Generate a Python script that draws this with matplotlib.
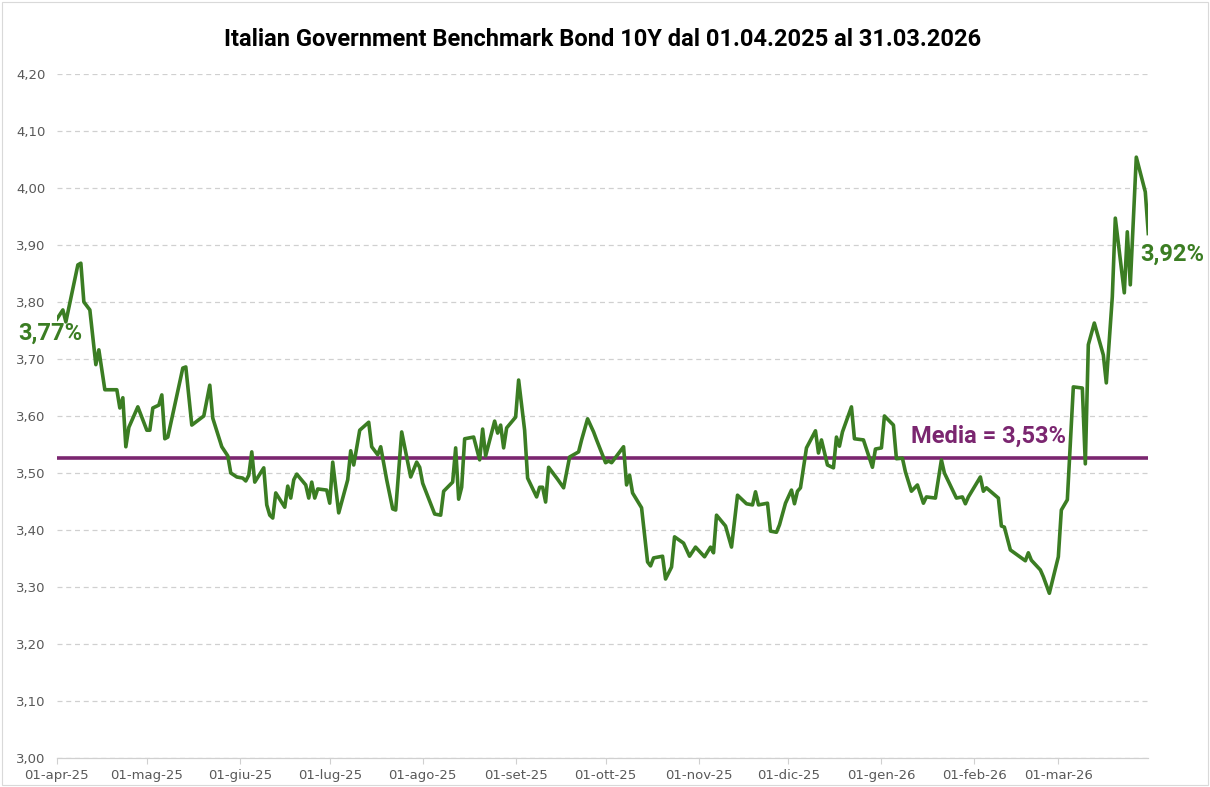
import matplotlib
matplotlib.use("Agg")
import matplotlib.pyplot as plt
import pandas as pd
from matplotlib.ticker import FuncFormatter, MultipleLocator
from matplotlib.patches import Rectangle

# rendimento BTP 10Y (vertici)
date_str = [
    "2025-04-01", "2025-04-03", "2025-04-04", "2025-04-08", "2025-04-09", "2025-04-10",
    "2025-04-12", "2025-04-14", "2025-04-15", "2025-04-17", "2025-04-21", "2025-04-22",
    "2025-04-23", "2025-04-24", "2025-04-25", "2025-04-28", "2025-05-01", "2025-05-02",
    "2025-05-03", "2025-05-05", "2025-05-06", "2025-05-07", "2025-05-08", "2025-05-13",
    "2025-05-14", "2025-05-16", "2025-05-20", "2025-05-22", "2025-05-23", "2025-05-26",
    "2025-05-28", "2025-05-29", "2025-05-31", "2025-06-02", "2025-06-03", "2025-06-04",
    "2025-06-05", "2025-06-06", "2025-06-09", "2025-06-10", "2025-06-11", "2025-06-12",
    "2025-06-13", "2025-06-16", "2025-06-17", "2025-06-18", "2025-06-19", "2025-06-20",
    "2025-06-23", "2025-06-24", "2025-06-25", "2025-06-26", "2025-06-27", "2025-06-30",
    "2025-07-01", "2025-07-02", "2025-07-03", "2025-07-04", "2025-07-07", "2025-07-08",
    "2025-07-09", "2025-07-11", "2025-07-14", "2025-07-15", "2025-07-17", "2025-07-18",
    "2025-07-20", "2025-07-22", "2025-07-23", "2025-07-25", "2025-07-28", "2025-07-30",
    "2025-07-31", "2025-08-01", "2025-08-05", "2025-08-07", "2025-08-08", "2025-08-11",
    "2025-08-12", "2025-08-13", "2025-08-14", "2025-08-15", "2025-08-18", "2025-08-20",
    "2025-08-21", "2025-08-22", "2025-08-25", "2025-08-26", "2025-08-27", "2025-08-28",
    "2025-08-29", "2025-09-01", "2025-09-02", "2025-09-04", "2025-09-05", "2025-09-08",
    "2025-09-09", "2025-09-10", "2025-09-11", "2025-09-12", "2025-09-15", "2025-09-17",
    "2025-09-19", "2025-09-22", "2025-09-23", "2025-09-25", "2025-09-27", "2025-09-28",
    "2025-10-01", "2025-10-02", "2025-10-03", "2025-10-07", "2025-10-08", "2025-10-09",
    "2025-10-10", "2025-10-13", "2025-10-15", "2025-10-16", "2025-10-17", "2025-10-20",
    "2025-10-21", "2025-10-23", "2025-10-24", "2025-10-27", "2025-10-29", "2025-10-31",
    "2025-11-03", "2025-11-05", "2025-11-06", "2025-11-07", "2025-11-10", "2025-11-12",
    "2025-11-14", "2025-11-17", "2025-11-19", "2025-11-20", "2025-11-21", "2025-11-24",
    "2025-11-25", "2025-11-27", "2025-11-28", "2025-11-30", "2025-12-02", "2025-12-03",
    "2025-12-04", "2025-12-05", "2025-12-07", "2025-12-10", "2025-12-11", "2025-12-12",
    "2025-12-14", "2025-12-16", "2025-12-17", "2025-12-18", "2025-12-19", "2025-12-22",
    "2025-12-23", "2025-12-26", "2025-12-29", "2025-12-30", "2026-01-01", "2026-01-02",
    "2026-01-05", "2026-01-06", "2026-01-08", "2026-01-09", "2026-01-11", "2026-01-13",
    "2026-01-15", "2026-01-16", "2026-01-19", "2026-01-21", "2026-01-22", "2026-01-26",
    "2026-01-28", "2026-01-29", "2026-01-30", "2026-02-03", "2026-02-04", "2026-02-05",
    "2026-02-07", "2026-02-09", "2026-02-10", "2026-02-11", "2026-02-13", "2026-02-18",
    "2026-02-19", "2026-02-20", "2026-02-23", "2026-02-24", "2026-02-26", "2026-03-01",
    "2026-03-02", "2026-03-04", "2026-03-06", "2026-03-09", "2026-03-10", "2026-03-11",
    "2026-03-13", "2026-03-16", "2026-03-17", "2026-03-19", "2026-03-20", "2026-03-23",
    "2026-03-24", "2026-03-25", "2026-03-27", "2026-03-30", "2026-03-31",
]
rendimento = [
    3.770, 3.786, 3.765, 3.865, 3.868, 3.800,
    3.786, 3.690, 3.716, 3.646, 3.646, 3.614,
    3.632, 3.546, 3.580, 3.616, 3.575, 3.575,
    3.614, 3.619, 3.637, 3.560, 3.563, 3.684,
    3.686, 3.584, 3.600, 3.654, 3.596, 3.546,
    3.530, 3.500, 3.493, 3.491, 3.486, 3.496,
    3.537, 3.484, 3.509, 3.444, 3.426, 3.421,
    3.465, 3.440, 3.477, 3.456, 3.488, 3.498,
    3.479, 3.456, 3.484, 3.456, 3.472, 3.470,
    3.447, 3.519, 3.475, 3.430, 3.488, 3.539,
    3.514, 3.575, 3.589, 3.546, 3.532, 3.546,
    3.488, 3.437, 3.435, 3.572, 3.493, 3.519,
    3.510, 3.482, 3.428, 3.426, 3.468, 3.484,
    3.544, 3.454, 3.475, 3.560, 3.563, 3.523,
    3.577, 3.530, 3.591, 3.570, 3.584, 3.544,
    3.579, 3.598, 3.663, 3.575, 3.491, 3.458,
    3.475, 3.475, 3.449, 3.510, 3.489, 3.474,
    3.528, 3.537, 3.558, 3.595, 3.572, 3.558,
    3.518, 3.521, 3.518, 3.546, 3.479, 3.496,
    3.465, 3.439, 3.344, 3.337, 3.351, 3.354,
    3.314, 3.335, 3.388, 3.377, 3.354, 3.370,
    3.353, 3.370, 3.360, 3.426, 3.407, 3.370,
    3.461, 3.446, 3.444, 3.467, 3.444, 3.447,
    3.398, 3.396, 3.409, 3.447, 3.470, 3.446,
    3.468, 3.474, 3.544, 3.574, 3.535, 3.558,
    3.514, 3.509, 3.563, 3.547, 3.572, 3.616,
    3.560, 3.558, 3.510, 3.542, 3.544, 3.600,
    3.584, 3.525, 3.526, 3.502, 3.468, 3.479,
    3.447, 3.458, 3.456, 3.523, 3.500, 3.456,
    3.458, 3.446, 3.458, 3.493, 3.468, 3.474,
    3.465, 3.456, 3.407, 3.405, 3.365, 3.346,
    3.360, 3.347, 3.330, 3.318, 3.289, 3.353,
    3.435, 3.453, 3.651, 3.649, 3.516, 3.725,
    3.763, 3.707, 3.658, 3.809, 3.947, 3.816,
    3.923, 3.830, 4.054, 3.993, 3.920,
]
media = 3.527

tick_date = ["2025-04-01", "2025-05-01", "2025-06-01", "2025-07-01", "2025-08-01",
             "2025-09-01", "2025-10-01", "2025-11-01", "2025-12-01", "2026-01-01",
             "2026-02-01", "2026-03-01"]
tick_lab = ["01-apr-25", "01-mag-25", "01-giu-25", "01-lug-25", "01-ago-25",
            "01-set-25", "01-ott-25", "01-nov-25", "01-dic-25", "01-gen-26",
            "01-feb-26", "01-mar-26"]

verde = "#3B7D23"
viola = "#7B2670"
grigio = "#595959"

date = pd.to_datetime(date_str)

fig = plt.figure(figsize=(12.1, 7.87), dpi=100)
ax = fig.add_axes([0.047, 0.0368, 0.902, 0.8693])
fig.patches.append(Rectangle((0.002, 0.002), 0.996, 0.996, transform=fig.transFigure,
                             fill=False, edgecolor="#D9D9D9", linewidth=0.8))

ax.plot(date, rendimento, color=verde, linewidth=2.6, solid_joinstyle="round", zorder=3)
ax.axhline(media, color=viola, linewidth=2.6, zorder=2)

ax.set_xlim(pd.Timestamp("2025-04-01"), pd.Timestamp("2026-03-31"))
ax.set_ylim(3.0, 4.2)
ax.yaxis.set_major_locator(MultipleLocator(0.1))
ax.yaxis.set_major_formatter(FuncFormatter(lambda v, p: f"{v:.2f}".replace(".", ",")))
ax.grid(axis="y", color="#D0D0D0", linestyle=(0, (4, 3)), linewidth=0.9, zorder=0)

ax.set_xticks(pd.to_datetime(tick_date))
ax.set_xticklabels(tick_lab)

for s in ["top", "right", "left"]:
    ax.spines[s].set_visible(False)
ax.spines["bottom"].set_color("#D0D0D0")
ax.spines["bottom"].set_linewidth(0.9)
ax.tick_params(axis="y", length=0, pad=8, labelsize=9.5, labelcolor=grigio)
ax.tick_params(axis="x", length=4, color="#D0D0D0", pad=4, labelsize=9.5, labelcolor=grigio)
for lab in ax.get_xticklabels() + ax.get_yticklabels():
    lab.set_family(["Liberation Sans Narrow", "DejaVu Sans"])

ax.set_title("Italian Government Benchmark Bond 10Y dal 01.04.2025 al 31.03.2026",
             fontsize=17, fontweight="bold", family="Roboto", pad=20)

ax.annotate(f"{rendimento[0]:.2f}%".replace(".", ","), (date[0], rendimento[0]),
            xytext=(-28, -10), textcoords="offset points", color=verde, va="center",
            fontsize=17, fontweight="bold", family="Roboto", annotation_clip=False)
ax.annotate(f"{rendimento[-1]:.2f}%".replace(".", ","), (date[-1], rendimento[-1]),
            xytext=(-6, -15), textcoords="offset points", color=verde, va="center",
            fontsize=17, fontweight="bold", family="Roboto", annotation_clip=False)
ax.annotate(f"Media = {media:.2f}%".replace(".", ","), (pd.Timestamp("2026-01-11"), media),
            xytext=(0, 15), textcoords="offset points", color=viola, va="center",
            fontsize=17, fontweight="bold", family="Roboto")

fig.savefig("out.png", dpi=100)
